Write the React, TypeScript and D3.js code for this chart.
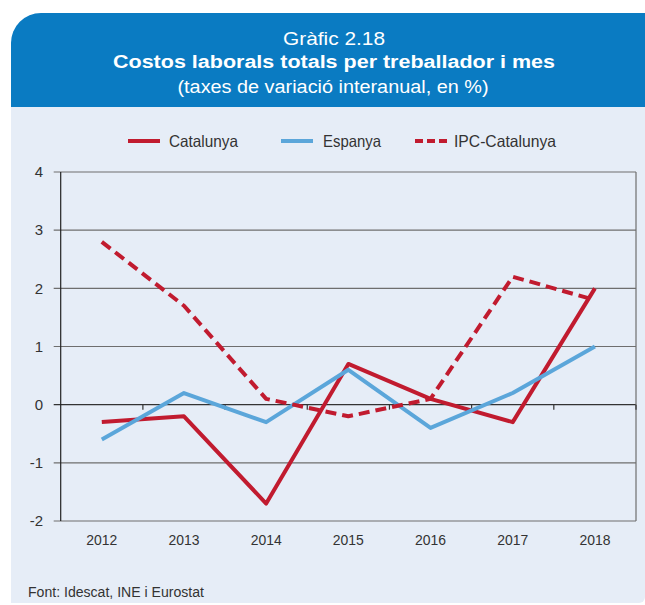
import React from 'react'
import * as d3 from 'd3'

const years = ['2012', '2013', '2014', '2015', '2016', '2017', '2018']
const catalunya = [-0.3, -0.2, -1.7, 0.7, 0.1, -0.3, 2.0]
const espanya = [-0.6, 0.2, -0.3, 0.6, -0.4, 0.2, 1.0]
const ipcCatalunya = [2.8, 1.7, 0.1, -0.2, 0.1, 2.2, 1.8]
const yTicks = [-2, -1, 0, 1, 2, 3, 4]

const RED = '#c11b2f'
const BLUE = '#5ba6da'
const NARROW = "'Liberation Sans Narrow', 'Liberation Sans', Arial, sans-serif"
const SANS = "'Liberation Sans', Arial, sans-serif"

export default function App() {
  const width = 645
  const height = 605
  const left = 60.7
  const right = 636
  const top = 172
  const bottom = 521

  const x = d3.scaleBand<string>().domain(years).range([left, right]).padding(0)
  const y = d3.scaleLinear().domain([-2, 4]).range([bottom, top])
  const cx = (d: string) => (x(d) || 0) + x.bandwidth() / 2

  const line = d3
    .line<number>()
    .x((_, i) => cx(years[i]))
    .y((d) => y(d))

  const series = [
    { name: 'Catalunya', values: catalunya, color: RED, dash: null, lx: 128, tx: 169, tw: 69 },
    { name: 'Espanya', values: espanya, color: BLUE, dash: null, lx: 281, tx: 323, tw: 58 },
    { name: 'IPC-Catalunya', values: ipcCatalunya, color: RED, dash: '11,6', lx: 415, tx: 454, tw: 102 },
  ]

  // band boundaries for the small ticks under the zero line
  const boundaries = years.slice(1).map((d) => x(d) || 0).concat([right])

  const headerPath = `M11,107 L11,43 A30,30 0 0 1 41,13 L645,13 L645,107 Z`
  const bodyPath = `M11,107 L645,107 L645,597 A6,6 0 0 1 639,603 L11,603 Z`

  return (
    <svg width={width} height={height} style={{ position: 'absolute', left: 0, top: 0 }}>
      <rect width={width} height={height} fill="#fff" />
      <path d={bodyPath} fill="#e6edf7" />
      <path d={headerPath} fill="#0a7bc2" />

      {/* header texts */}
      <text x={334} y={45} fill="#fff" fontFamily={SANS} fontSize={19} textAnchor="middle"
        textLength={102} lengthAdjust="spacingAndGlyphs">
        Gràfic 2.18
      </text>
      <text x={334} y={68} fill="#fff" fontFamily={SANS} fontSize={18} fontWeight="bold" textAnchor="middle"
        textLength={442} lengthAdjust="spacingAndGlyphs">
        Costos laborals totals per treballador i mes
      </text>
      <text x={333} y={93} fill="#fff" fontFamily={SANS} fontSize={17.5} textAnchor="middle"
        textLength={311} lengthAdjust="spacingAndGlyphs">
        (taxes de variació interanual, en %)
      </text>

      {/* legend */}
      {series.map((s) => (
        <g key={s.name}>
          <line x1={s.lx} x2={s.lx + 32} y1={141} y2={141} stroke={s.color} strokeWidth={4}
            strokeDasharray={s.dash ? '8,4' : undefined} strokeLinecap="butt" />
          <text x={s.tx} y={147} fill="#333" fontFamily={NARROW} fontSize={16.5}
            textLength={s.tw} lengthAdjust="spacingAndGlyphs">
            {s.name}
          </text>
        </g>
      ))}

      {/* gridlines */}
      {yTicks.map((t) => (
        <g key={t}>
          <line x1={left - 7} x2={right} y1={y(t)} y2={y(t)} stroke={t === 0 ? '#333' : '#6e6e6e'} strokeWidth={1.2} />
          <text x={43} y={y(t)} dy="0.35em" textAnchor="end" fill="#333" fontFamily={NARROW} fontSize={15}>
            {t}
          </text>
        </g>
      ))}
      <line x1={left} x2={left} y1={top} y2={bottom} stroke="#222" strokeWidth={1.2} />
      <line x1={right} x2={right} y1={top} y2={bottom} stroke="#6e6e6e" strokeWidth={1.2} />
      {boundaries.map((b, i) => (
        <line key={i} x1={b} x2={b} y1={y(0)} y2={y(0) + 5} stroke="#333" strokeWidth={1.2} />
      ))}

      {/* x labels */}
      {years.map((d) => (
        <text key={d} x={cx(d)} y={545} textAnchor="middle" fill="#333" fontFamily={NARROW} fontSize={15.5}
          textLength={31} lengthAdjust="spacingAndGlyphs">
          {d}
        </text>
      ))}

      {/* series */}
      {series.map((s) => (
        <path key={s.name} d={line(s.values) || ''} fill="none" stroke={s.color} strokeWidth={4}
          strokeLinejoin="round" strokeDasharray={s.dash || undefined} />
      ))}

      <text x={28} y={597} fill="#333" fontFamily={NARROW} fontSize={14}
        textLength={176} lengthAdjust="spacingAndGlyphs">
        Font: Idescat, INE i Eurostat
      </text>
    </svg>
  )
}
